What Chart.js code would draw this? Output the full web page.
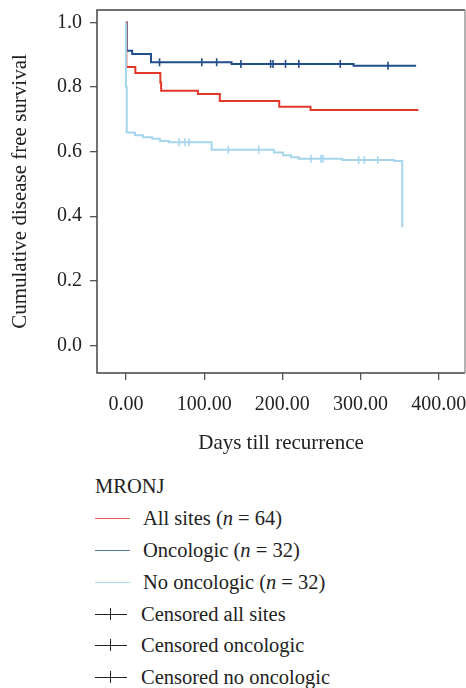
<!DOCTYPE html>
<html><head><meta charset="utf-8">
<script src="https://cdn.jsdelivr.net/npm/chart.js@4"></script>
<style>
html,body{margin:0;padding:0;background:#fff;}
#wrap{position:relative;width:466px;height:688px;overflow:hidden;}
#c{position:absolute;left:0;top:0;}
#legend{position:absolute;left:95px;top:471px;font-family:'Liberation Serif',serif;font-size:20.5px;color:#222;}
.row{height:31.8px;display:flex;align-items:center;white-space:nowrap;}
.sw{width:35px;height:0;border-top:1.5px solid;margin-right:13px;}
.cs{position:relative;width:32px;height:0;border-top:1.5px solid #222;margin-right:14px;}
.cs::after{content:'';position:absolute;left:15px;top:-7px;width:0;height:12px;border-left:1.5px solid #222;}
</style></head>
<body><div id="wrap"><canvas id="c" width="466" height="470"></canvas><div id="legend"></div></div>
<script>
// ---- data ----
const xTicks = [0, 100, 200, 300, 400];
const yTicks = [0, 0.2, 0.4, 0.6, 0.8, 1.0];

const allSitesDays = [0, 0.5, 12, 44, 45, 92, 120, 196, 236, 374];
const allSitesSurv = [1.0, 0.862, 0.844, 0.814, 0.789, 0.779, 0.757, 0.739, 0.729, 0.729];
const allSitesCensorDays = [];

const oncoDays = [0, 1, 8, 32, 135, 291, 371];
const oncoSurv = [1.0, 0.913, 0.903, 0.877, 0.872, 0.866, 0.866];
const oncoCensorDays = [43, 97, 116, 147, 185, 188, 204, 221, 274, 335];

const noOncoDays = [0, 0, 1, 11.5, 22, 33.6, 43.5, 55, 109.6, 189.3, 201, 211, 221, 276.6, 343, 353.3];
const noOncoSurv = [1.0, 0.800, 0.659, 0.651, 0.645, 0.640, 0.633, 0.629, 0.606, 0.597, 0.589, 0.583, 0.578, 0.574, 0.571, 0.366];
const noOncoCensorDays = [67.8, 75.4, 80.6, 130.9, 169.7, 236.6, 249.4, 252, 297.6, 304.8, 321.9];

const legendTitle = 'MRONJ';
const seriesLabels = ['All sites (<i>n</i> = 64)', 'Oncologic (<i>n</i> = 32)', 'No oncologic (<i>n</i> = 32)'];
const censorLabels = ['Censored all sites', 'Censored oncologic', 'Censored no oncologic'];
const colors = ['#e2382a', '#1f4e89', '#a6d6ee'];
const legendColors = ['#e4685a', '#55789f', '#a9dcf2'];

// ---- helpers ----
const pts = (d, s) => d.map((x, i) => ({x: x, y: s[i]}));
function survAt(days, surv, t) {
  let s = surv[0];
  for (let i = 0; i < days.length; i++) if (days[i] <= t) s = surv[i];
  return s;
}
const censorPts = (c, d, s) => c.map(t => ({x: t, y: survAt(d, s, t)}));

const FONT = "'Liberation Serif', serif";

const lineDs = (data, color) => ({type: 'line', data: data, borderColor: color, borderWidth: 2,
  stepped: 'before', pointRadius: 0, fill: false});
const censorDs = (data, color) => ({type: 'scatter', data: data, borderColor: color, backgroundColor: color,
  showLine: false, pointStyle: 'line', rotation: 90, pointRadius: 4, borderWidth: 1.6});

const boxPlugin = {
  id: 'box',
  beforeDatasetsDraw(chart) {
    const {ctx, chartArea: {left, top, right, bottom}} = chart;
    ctx.save();
    ctx.lineWidth = 1.5;
    ctx.strokeStyle = '#444';
    ctx.beginPath();
    ctx.moveTo(right, top); ctx.lineTo(left, top); ctx.lineTo(left, bottom); ctx.lineTo(right, bottom);
    ctx.stroke();
    ctx.strokeStyle = '#999';
    ctx.beginPath(); ctx.moveTo(right, top); ctx.lineTo(right, bottom); ctx.stroke();
    ctx.restore();
  }
};

new Chart(document.getElementById('c'), {
  type: 'line',
  data: {datasets: [
    lineDs(pts(noOncoDays, noOncoSurv), colors[2]),
    censorDs(censorPts(noOncoCensorDays, noOncoDays, noOncoSurv), colors[2]),
    lineDs(pts(allSitesDays, allSitesSurv), colors[0]),
    censorDs(censorPts(allSitesCensorDays, allSitesDays, allSitesSurv), colors[0]),
    lineDs(pts(oncoDays, oncoSurv), colors[1]),
    censorDs(censorPts(oncoCensorDays, oncoDays, oncoSurv), colors[1])
  ]},
  options: {
    responsive: false, animation: false,
    layout: {autoPadding: false, padding: {top: 10, right: 1, left: 0, bottom: 0}},
    plugins: {legend: {display: false}, tooltip: {enabled: false}},
    scales: {
      x: {type: 'linear', min: -37, max: 433.5,
        afterBuildTicks: a => { a.ticks = xTicks.map(v => ({value: v})); },
        afterFit: s => { s.height = 97; s.paddingLeft = 0; s.paddingRight = 0; },
        ticks: {callback: v => Number(v).toFixed(2), font: {family: FONT, size: 20}, color: '#222', padding: 13, maxRotation: 0},
        grid: {drawOnChartArea: false, tickLength: 7, color: '#555', lineWidth: 1.3},
        border: {display: false},
        title: {display: true, text: 'Days till recurrence', font: {family: FONT, size: 21}, color: '#222', padding: {top: 0, bottom: 14.4}}
      },
      y: {type: 'linear', min: -0.086, max: 1.039,
        afterBuildTicks: a => { a.ticks = yTicks.map(v => ({value: v})); },
        afterFit: s => { s.width = 97; s.paddingTop = 0; s.paddingBottom = 0; },
        ticks: {callback: v => Number(v).toFixed(1), font: {family: FONT, size: 20}, color: '#222', padding: 8},
        grid: {drawOnChartArea: false, tickLength: 7, color: '#555', lineWidth: 1.3},
        border: {display: false},
        title: {display: true, text: 'Cumulative disease free survival', font: {family: FONT, size: 21}, color: '#222', padding: {top: 7.4, bottom: 0}}
      }
    }
  },
  plugins: [boxPlugin]
});

// ---- legend ----
const lg = document.getElementById('legend');
let html = '<div class="row">' + legendTitle + '</div>';
seriesLabels.forEach((t, i) => { html += '<div class="row"><span class="sw" style="border-color:' + legendColors[i] + '"></span><span>' + t + '</span></div>'; });
censorLabels.forEach(t => { html += '<div class="row"><span class="cs"></span><span>' + t + '</span></div>'; });
lg.innerHTML = html;
</script>
</body></html>
